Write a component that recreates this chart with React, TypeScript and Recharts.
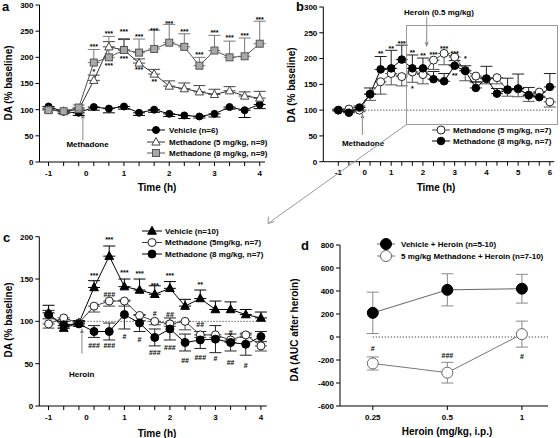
import React from 'react';
import { ComposedChart, Line, Scatter, XAxis, YAxis, ErrorBar, ReferenceLine } from 'recharts';

const FONT = '"Liberation Sans", Arial, Helvetica, sans-serif';

// ---- panel a: methadone alone (sample times in h, 20 min bins)
const timesA = [-1, -2 / 3, -1 / 3, 1 / 3, 2 / 3, 1, 4 / 3, 5 / 3, 2, 7 / 3, 8 / 3, 3, 10 / 3, 11 / 3, 4];
const hoursA = [-1, 0, 1, 2, 3, 4];
const vehicleA = [106, 96, 94, 105, 102, 106, 94, 100, 92, 89, 87, 92, 105, 99, 110];
const vehicleAErr = [4, 3, 5, 6, 8, 5, 5, 5, 5, 6, 3, 6, 4, 14, 8];
const met5A = [100, 97, 100, 156, 220, 214, 189, 168, 145, 140, 134, 129, 136, 126, 122];
const met5AErr = [3, 2, 3, 10, 10, 20, 8, 9, 10, 11, 12, 10, 8, 8, 13];
const met8A = [99, 97, 104, 190, 200, 214, 209, 216, 228, 220, 184, 213, 200, 202, 226];
const met8AErr = [3, 3, 5, 25, 40, 22, 26, 36, 35, 25, 16, 29, 31, 35, 43];
const notesA = [
  { k: 3, v: 220, t: '***' }, { k: 4, v: 246, t: '***' }, { k: 5, v: 250, t: '***' }, { k: 6, v: 240, t: '***' },
  { k: 7, v: 251, t: '***' }, { k: 8, v: 265, t: '***' }, { k: 9, v: 250, t: '***' }, { k: 10, v: 206, t: '***' },
  { k: 11, v: 247, t: '***' }, { k: 12, v: 237, t: '***' }, { k: 13, v: 242, t: '***' }, { k: 14, v: 273, t: '***' },
  { k: 3, v: 173, t: '*' }, { k: 4, v: 185, t: '***' }, { k: 5, v: 197, t: '***' }, { k: 6, v: 177, t: '***' },
  { k: 7, v: 154, t: '**' },
];

// ---- panel b: methadone then heroin
const timesB = [-1, -2 / 3, -1 / 3, 1 / 3, 2 / 3, 1, 4 / 3, 5 / 3, 2, 7 / 3, 8 / 3, 3, 10 / 3, 11 / 3, 4, 13 / 3, 14 / 3, 5, 16 / 3, 17 / 3, 6];
const hoursB = [-1, 0, 1, 2, 3, 4, 5, 6];
const met5B = [100, 102, 100, 131, 155, 171, 165, 174, 169, 197, 210, 203, 177, 166, 161, 163, 139, 141, 129, 135, 116];
const met5BErr = [2, 2, 3, 12, 24, 22, 18, 20, 18, 18, 22, 15, 20, 12, 10, 12, 12, 15, 12, 8, 10];
const met8B = [100, 95, 105, 131, 179, 181, 198, 181, 181, 160, 156, 186, 176, 143, 161, 132, 140, 142, 129, 125, 145];
const met8BErr = [2, 2, 3, 12, 25, 35, 28, 26, 20, 15, 15, 10, 10, 12, 24, 10, 22, 28, 15, 10, 26];
const notesB = [
  { k: 4, v: 210, t: '**' }, { k: 5, v: 219, t: '**' }, { k: 6, v: 230, t: '***' }, { k: 7, v: 212, t: '**' },
  { k: 8, v: 206, t: '**' }, { k: 9, v: 208, t: '***' }, { k: 10, v: 219, t: '***' }, { k: 11, v: 210, t: '***' },
  { k: 12, v: 200, t: '*' }, { k: 7, v: 141, t: '*' }, { k: 11, v: 168, t: '**' },
];

// ---- panel c: heroin after pretreatment
const timesC = timesA;
const hoursC = hoursA;
const vehC = [110, 92, 98, 140, 177, 141, 137, 132, 139, 118, 127, 114, 114, 108, 104];
const vehCErr = [9, 3, 3, 8, 12, 9, 13, 10, 8, 8, 10, 10, 9, 6, 7];
const met5C = [97, 104, 98, 118, 124, 124, 107, 100, 97, 100, 84, 84, 78, 84, 71];
const met5CErr = [5, 2, 2, 7, 6, 6, 6, 4, 3, 10, 3, 3, 3, 3, 6];
const met8C = [108, 96, 97, 88, 88, 108, 98, 81, 91, 75, 78, 79, 75, 73, 82];
const met8CErr = [5, 4, 3, 7, 10, 17, 10, 10, 13, 10, 10, 16, 10, 13, 6];
const notesC = [
  { k: 3, v: 154, t: '***' }, { k: 4, v: 197, t: '***' }, { k: 5, v: 158, t: '***' }, { k: 6, v: 156, t: '***' },
  { k: 7, v: 142, t: '***' }, { k: 8, v: 154, t: '***' }, { k: 10, v: 143, t: '**' },
  { k: 4, v: 132, t: '###' }, { k: 7, v: 109, t: '#' }, { k: 8, v: 108, t: '##' }, { k: 10, v: 96, t: '##' },
  { k: 12, v: 87, t: '#' },
  { k: 3, v: 71, t: '###' }, { k: 4, v: 71, t: '###' }, { k: 5, v: 82, t: '#' }, { k: 6, v: 79, t: '#' },
  { k: 7, v: 63, t: '###' }, { k: 8, v: 69, t: '###' }, { k: 9, v: 54, t: '##' }, { k: 10, v: 57, t: '###' },
  { k: 11, v: 56, t: '#' }, { k: 12, v: 51, t: '##' }, { k: 13, v: 48, t: '#' },
];

// ---- panel d: AUC vs heroin dose
const doses = ['0.25', '0.5', '1'];
const vehD = [210, 410, 420];
const vehDErr = [180, 140, 125];
const metD = [-230, -310, 25];
const metDErr = [57, 90, 113];
const notesD = [{ k: 0, v: -100, t: '#' }, { k: 1, v: -165, t: '###' }, { k: 2, v: -172, t: '#' }];

type Mark = 'circle' | 'tri' | 'square';
type Dir = 'up' | 'down' | 'both';
type Series = {
  key: string; name: string; values: number[]; err: number[]; dir: Dir;
  mark: Mark; r: number; fill: string; edge: string; line: string; errColor: string;
};
type Note = { k: number; v: number; t: string };
type Arrow = { x: number; from: number; to: number };

const seriesA: Series[] = [
  { key: 'veh', name: 'Vehicle (n=6)', values: vehicleA, err: vehicleAErr, dir: 'down', mark: 'circle', r: 3.5, fill: '#000', edge: '#000', line: '#000', errColor: '#000' },
  { key: 'm5', name: 'Methadone (5 mg/kg, n=9)', values: met5A, err: met5AErr, dir: 'up', mark: 'tri', r: 3.6, fill: '#fff', edge: '#444', line: '#333', errColor: '#444' },
  { key: 'm8', name: 'Methadone (8 mg/kg, n=9)', values: met8A, err: met8AErr, dir: 'up', mark: 'square', r: 3.5, fill: '#a8a8a8', edge: '#555', line: '#555', errColor: '#777' },
];
const seriesB: Series[] = [
  { key: 'm5', name: 'Methadone (5 mg/kg, n=7)', values: met5B, err: met5BErr, dir: 'down', mark: 'circle', r: 4, fill: '#fff', edge: '#222', line: '#444', errColor: '#555' },
  { key: 'm8', name: 'Methadone (8 mg/kg, n=7)', values: met8B, err: met8BErr, dir: 'up', mark: 'circle', r: 3.8, fill: '#000', edge: '#000', line: '#000', errColor: '#222' },
];
const seriesC: Series[] = [
  { key: 'veh', name: 'Vehicle (n=10)', values: vehC, err: vehCErr, dir: 'up', mark: 'tri', r: 3.8, fill: '#000', edge: '#000', line: '#000', errColor: '#000' },
  { key: 'm5', name: 'Methadone (5mg/kg, n=7)', values: met5C, err: met5CErr, dir: 'down', mark: 'circle', r: 4, fill: '#fff', edge: '#222', line: '#444', errColor: '#444' },
  { key: 'm8', name: 'Methadone (8 mg/kg, n=7)', values: met8C, err: met8CErr, dir: 'both', mark: 'circle', r: 4, fill: '#000', edge: '#000', line: '#000', errColor: '#222' },
];
const seriesD: Series[] = [
  { key: 'veh', name: 'Vehicle + Heroin (n=5-10)', values: vehD, err: vehDErr, dir: 'both', mark: 'circle', r: 5.5, fill: '#000', edge: '#000', line: '#666', errColor: '#888' },
  { key: 'met', name: '5 mg/kg Methadone + Heroin (n=7-10)', values: metD, err: metDErr, dir: 'both', mark: 'circle', r: 5.5, fill: '#fff', edge: '#666', line: '#777', errColor: '#888' },
];

function Marker({ mark, cx, cy, r, fill, edge }: any) {
  if (cx == null || cy == null) return null;
  if (mark === 'square') return <rect x={cx - r} y={cy - r} width={r * 2} height={r * 2} fill={fill} stroke={edge} strokeWidth={1} />;
  if (mark === 'tri') {
    const pts = `${cx},${cy - r * 1.25} ${cx - r * 1.15},${cy + r * 0.85} ${cx + r * 1.15},${cy + r * 0.85}`;
    return <polygon points={pts} fill={fill} stroke={edge} strokeWidth={1} />;
  }
  return <circle cx={cx} cy={cy} r={r} fill={fill} stroke={edge} strokeWidth={1} />;
}

// where an hour falls on the evenly spaced sample axis
function idxOf(times: number[], h: number) {
  for (let k = 0; k < times.length - 1; k++) {
    if (h <= times[k + 1]) return k + (h - times[k]) / (times[k + 1] - times[k]);
  }
  return times.length - 1;
}

function ArrowShape(p: any) {
  const { x1, y1, x2, y2 } = p;
  const dx = x2 - x1, dy = y2 - y1;
  const len = Math.hypot(dx, dy) || 1;
  const ux = dx / len, uy = dy / len;
  const bx = x2 - ux * 5, by = y2 - uy * 5;
  return (
    <g>
      <line x1={x1} y1={y1} x2={bx} y2={by} stroke="#888" strokeWidth={1} />
      <polygon points={`${x2},${y2} ${bx - uy * 2},${by + ux * 2} ${bx + uy * 2},${by - ux * 2}`} fill="#888" />
    </g>
  );
}

const tickStyle = { fontSize: 8, fontWeight: 700, fill: '#000', fontFamily: FONT };

function Panel(props: {
  left: number; top: number; width: number; height: number;
  plot: { l: number; t: number; b: number; r: number };
  xDomain: [number, number]; minorTicks: number[]; labelTicks: number[]; labelText: (v: number) => string;
  yDomain: [number, number]; yTicks: number[];
  series: Series[]; notes: Note[]; arrows?: Arrow[]; baseline?: number;
}) {
  const { left, top, width, height, plot, xDomain, minorTicks, labelTicks, labelText, yDomain, yTicks, series, notes, arrows = [], baseline } = props;
  const n = series[0].values.length;
  const rows = Array.from({ length: n }, (_, k) => {
    const row: any = { i: k };
    series.forEach((s) => {
      const e = s.err[k];
      row[s.key] = s.values[k];
      row[s.key + 'E'] = s.dir === 'up' ? [0, e] : s.dir === 'down' ? [e, 0] : [e, e];
    });
    return row;
  });
  const noteRows = notes.map((m) => ({ i: m.k, v: m.v, t: m.t }));

  return (
    <div style={{ position: 'absolute', left, top }}>
      <ComposedChart width={width} height={height} data={rows} margin={{ top: plot.t, right: plot.r, left: 0, bottom: 0 }} style={{ fontFamily: FONT }}>
        {/* axis line + a tick at every sample, then a second axis holding the hour labels */}
        <XAxis xAxisId="a" dataKey="i" type="number" domain={xDomain} allowDataOverflow ticks={minorTicks} interval={0}
          tickFormatter={() => ''} tickSize={4} height={4} stroke="#000" />
        <XAxis xAxisId="b" dataKey="i" type="number" domain={xDomain} allowDataOverflow ticks={labelTicks} interval={0}
          tickFormatter={labelText} axisLine={false} tickLine={false} tickSize={0} tickMargin={4}
          height={height - plot.b - 4} tick={tickStyle} />
        <YAxis yAxisId="y" type="number" domain={yDomain} allowDataOverflow ticks={yTicks} interval={0}
          width={plot.l} tickSize={4} tickMargin={2} stroke="#000" tick={tickStyle} />
        {baseline !== undefined && (
          <ReferenceLine xAxisId="a" yAxisId="y" segment={[{ x: 0, y: baseline }, { x: xDomain[1], y: baseline }]}
            stroke="#000" strokeWidth={0.9} strokeDasharray="1 2" />
        )}
        {arrows.map((a, j) => (
          <ReferenceLine key={'arr' + j} xAxisId="a" yAxisId="y" segment={[{ x: a.x, y: a.from }, { x: a.x, y: a.to }]}
            stroke="#888" ifOverflow="visible" shape={(p: any) => <ArrowShape {...p} />} />
        ))}
        {series.map((s) => (
          <Line key={s.key + '-err'} xAxisId="a" yAxisId="y" dataKey={s.key} stroke="none" dot={false} activeDot={false} isAnimationActive={false}>
            <ErrorBar dataKey={s.key + 'E'} width={6} stroke={s.errColor} strokeWidth={1} direction="y" />
          </Line>
        ))}
        {series.map((s) => (
          <Line key={s.key} xAxisId="a" yAxisId="y" dataKey={s.key} stroke={s.line} strokeWidth={1}
            activeDot={false} isAnimationActive={false}
            dot={(p: any) => <Marker key={s.key + '-' + p.index} mark={s.mark} cx={p.cx} cy={p.cy} r={s.r} fill={s.fill} edge={s.edge} />} />
        ))}
        <Scatter xAxisId="a" yAxisId="y" data={noteRows} dataKey="v" isAnimationActive={false}
          shape={(p: any) => (
            <text x={p.cx} y={p.cy} textAnchor="middle" dominantBaseline="central" fontSize={7} fontWeight={700} fontFamily={FONT} fill="#000">
              {p.payload.t}
            </text>
          )} />
      </ComposedChart>
    </div>
  );
}

function LegendBlock({ series, x1, x2, tx, ys }: { series: Series[]; x1: number; x2: number; tx: number; ys: number[] }) {
  return (
    <g>
      {series.map((s, j) => (
        <g key={s.key}>
          <line x1={x1} x2={x2} y1={ys[j]} y2={ys[j]} stroke={s.line} strokeWidth={1} />
          <Marker mark={s.mark} cx={(x1 + x2) / 2} cy={ys[j]} r={s.r} fill={s.fill} edge={s.edge} />
          <text x={tx} y={ys[j]} dominantBaseline="central" fontSize={8} fontWeight={700} fontFamily={FONT}>{s.name}</text>
        </g>
      ))}
    </g>
  );
}

const title = { fontFamily: FONT, fontWeight: 700, fill: '#000' } as const;

export default function App() {
  const ticksA = timesA.map((_, k) => k);
  const ticksB = timesB.map((_, k) => k);
  const labA = hoursA.map((h) => idxOf(timesA, h));
  const labB = hoursB.map((h) => idxOf(timesB, h));
  const labC = hoursC.map((h) => idxOf(timesC, h));
  const fmt = (hours: number[], pos: number[]) => (v: number) => {
    const j = pos.findIndex((p) => Math.abs(p - v) < 1e-6);
    return j < 0 ? '' : String(hours[j]);
  };

  return (
    <div style={{ position: 'absolute', left: 0, top: 0, width: 560, height: 438, background: '#fff', fontFamily: FONT }}>
      <Panel left={0} top={0} width={280} height={220} plot={{ l: 39.5, t: 5, b: 162, r: 15 }}
        xDomain={[-0.6, 14.35]} minorTicks={ticksA} labelTicks={labA} labelText={fmt(hoursA, labA)}
        yDomain={[0, 300]} yTicks={[0, 50, 100, 150, 200, 250, 300]}
        series={seriesA} notes={notesA}
        arrows={[{ x: idxOf(timesA, -0.15), from: 42, to: 93 }]} />
      <Panel left={280} top={0} width={280} height={220} plot={{ l: 43.3, t: 7, b: 161.7, r: 5.7 }}
        xDomain={[-1.42, 20.42]} minorTicks={ticksB} labelTicks={labB} labelText={fmt(hoursB, labB)}
        yDomain={[0, 300]} yTicks={[0, 50, 100, 150, 200, 250, 300]}
        series={seriesB} notes={notesB} baseline={100}
        arrows={[{ x: idxOf(timesB, -0.15), from: 52, to: 94 }, { x: idxOf(timesB, 2.12), from: 281, to: 222 }]} />
      <Panel left={0} top={220} width={280} height={218} plot={{ l: 39.3, t: 16.7, b: 186, r: 13.3 }}
        xDomain={[-0.61, 14.38]} minorTicks={ticksA} labelTicks={labC} labelText={fmt(hoursC, labC)}
        yDomain={[0, 200]} yTicks={[0, 50, 100, 150, 200]}
        series={seriesC} notes={notesC} baseline={100}
        arrows={[{ x: idxOf(timesC, -0.2), from: 62, to: 92 }]} />
      <Panel left={280} top={220} width={280} height={218} plot={{ l: 60, t: 25, b: 186, r: 12 }}
        xDomain={[-0.44, 2.35]} minorTicks={[0, 1, 2]} labelTicks={[0, 1, 2]} labelText={(v) => doses[v] ?? ''}
        yDomain={[-600, 800]} yTicks={[-600, -400, -200, 0, 200, 400, 600, 800]}
        series={seriesD} notes={notesD} baseline={0} />

      <svg width={560} height={438} style={{ position: 'absolute', left: 0, top: 0, pointerEvents: 'none' }}>
        <text x={2} y={11} fontSize={13} {...title}>a</text>
        <text x={296} y={11} fontSize={13} {...title}>b</text>
        <text x={3} y={242} fontSize={13} {...title}>c</text>
        <text x={301} y={250} fontSize={13} {...title}>d</text>

        <text transform="translate(8,83) rotate(-90)" textAnchor="middle" dominantBaseline="central" fontSize={10} {...title}>DA (% baseline)</text>
        <text transform="translate(291,85) rotate(-90)" textAnchor="middle" dominantBaseline="central" fontSize={10} {...title}>DA (% baseline)</text>
        <text transform="translate(8,320) rotate(-90)" textAnchor="middle" dominantBaseline="central" fontSize={10} {...title}>DA (% baseline)</text>
        <text transform="translate(294,330) rotate(-90)" textAnchor="middle" dominantBaseline="central" fontSize={10} {...title}>DA (AUC after heroin)</text>

        <text x={157} y={187} textAnchor="middle" dominantBaseline="central" fontSize={10} {...title}>Time (h)</text>
        <text x={436} y={187} textAnchor="middle" dominantBaseline="central" fontSize={10} {...title}>Time (h)</text>
        <text x={157} y={433} textAnchor="middle" dominantBaseline="central" fontSize={10} {...title}>Time (h)</text>
        <text x={447} y={431} textAnchor="middle" dominantBaseline="central" fontSize={10} {...title}>Heroin (mg/kg, i.p.)</text>

        <text x={87.5} y={144.5} textAnchor="middle" dominantBaseline="central" fontSize={8} {...title}>Methadone</text>
        <text x={363} y={143.3} textAnchor="middle" dominantBaseline="central" fontSize={8} {...title}>Methadone</text>
        <text x={439} y={12} textAnchor="middle" dominantBaseline="central" fontSize={8} {...title}>Heroin (0.5 mg/kg)</text>
        <text x={81.7} y={374} textAnchor="middle" dominantBaseline="central" fontSize={8} {...title}>Heroin</text>

        <LegendBlock series={seriesA} x1={147} x2={165} tx={169} ys={[130, 142, 153]} />
        <LegendBlock series={seriesB} x1={432} x2={450} tx={453} ys={[130, 141]} />
        <LegendBlock series={seriesC} x1={142} x2={162} tx={165} ys={[231, 242.5, 254]} />
        <LegendBlock series={seriesD} x1={377} x2={395} tx={401} ys={[244, 256]} />

        <rect x={406.5} y={25.5} width={151} height={99} fill="none" stroke="#999" strokeWidth={1} />
        <line x1={406.5} y1={124.5} x2={268} y2={223.5} stroke="#999" strokeWidth={1} />
        <polyline points="268.5,216.5 268,223.5 274.5,221.5" fill="none" stroke="#999" strokeWidth={1} />
      </svg>
    </div>
  );
}
